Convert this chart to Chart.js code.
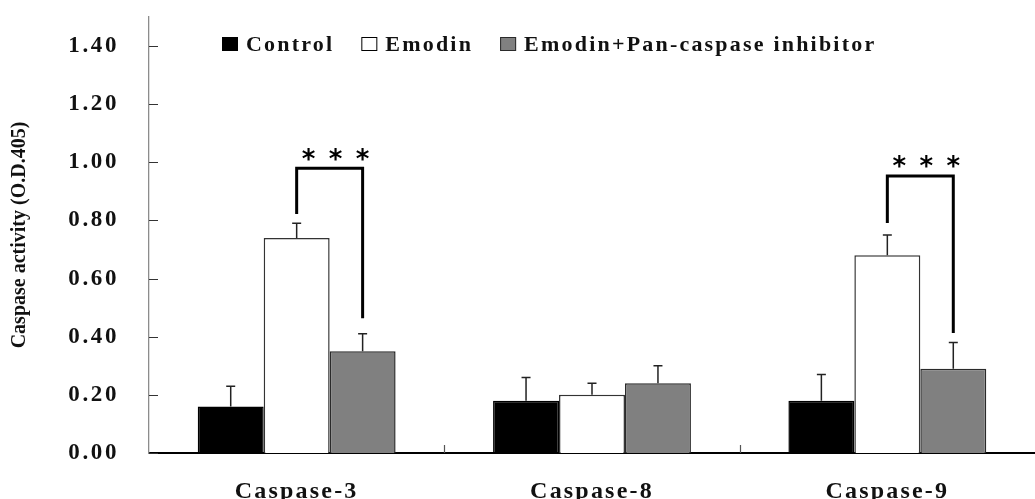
<!DOCTYPE html>
<html>
<head>
<meta charset="utf-8">
<script src="https://cdn.jsdelivr.net/npm/chart.js@4/dist/chart.umd.min.js"></script>
<style>
  html, body { margin: 0; padding: 0; background: #ffffff; }
  #wrap { width: 1035px; height: 499px; position: relative; }
</style>
</head>
<body>
<div id="wrap"><canvas id="chart"></canvas></div>
<script>
// ---- data ----
const categories = ['Caspase-3', 'Caspase-8', 'Caspase-9'];
const seriesNames = ['Control', 'Emodin', 'Emodin+Pan-caspase inhibitor'];

const controlValues = [0.16, 0.18, 0.18];
const controlErrors = [0.07, 0.08, 0.09];
const emodinValues = [0.74, 0.20, 0.68];
const emodinErrors = [0.05, 0.04, 0.07];
const inhibitorValues = [0.35, 0.24, 0.29];
const inhibitorErrors = [0.06, 0.06, 0.09];

const yTickValues = [0, 0.2, 0.4, 0.6, 0.8, 1.0, 1.2, 1.4];
const yTickLabels = ['0.00', '0.20', '0.40', '0.60', '0.80', '1.00', '1.20', '1.40'];

// significance brackets: Emodin vs Emodin+Pan-caspase inhibitor
const sigCategories = [0, 2];
const sigTop = [0.98, 0.953];
const sigEmodinEnd = [0.822, 0.791];
const sigInhibitorEnd = [0.464, 0.413];
const sigMarks = ['***', '***'];

// ---- styling ----
const SERIF = "'Liberation Serif', 'Times New Roman', serif";
const errorSets = [controlErrors, emodinErrors, inhibitorErrors];
const TICK_SPACING = { x: '2.2px', y: '2.6px' };

// tick labels are drawn with extra letter spacing
const spacedTickLabels = {
  id: 'spacedTickLabels',
  beforeDraw(chart) {
    for (const scale of Object.values(chart.scales)) {
      if (scale.__spaced) continue;
      const original = scale.drawLabels;
      const spacing = TICK_SPACING[scale.id] || '0px';
      scale.drawLabels = function (area) {
        const ctx = this.ctx;
        ctx.save();
        ctx.letterSpacing = spacing;
        original.call(this, area);
        ctx.restore();
      };
      scale.__spaced = true;
    }
  }
};

// inward tick marks on the value axis, short marks between categories
const axisMarks = {
  id: 'axisMarks',
  beforeDatasetsDraw(chart) {
    const {ctx, chartArea, scales: {x, y}} = chart;
    ctx.save();
    ctx.strokeStyle = '#333';
    ctx.lineWidth = 1.2;
    ctx.beginPath();
    for (const t of y.ticks) {
      const py = Math.round(y.getPixelForValue(t.value)) + 0.5;
      ctx.moveTo(chartArea.left, py);
      ctx.lineTo(chartArea.left + 9, py);
    }
    ctx.stroke();
    ctx.strokeStyle = '#555';
    ctx.beginPath();
    for (let i = 1; i < categories.length; i++) {
      const px = Math.round(x.getPixelForValue(i - 0.5)) + 0.5;
      ctx.moveTo(px, chartArea.bottom);
      ctx.lineTo(px, chartArea.bottom - 8);
    }
    ctx.stroke();
    ctx.restore();
  }
};

// upper error bars with caps
const errorBars = {
  id: 'errorBars',
  afterDatasetsDraw(chart) {
    const {ctx, scales: {y}} = chart;
    ctx.save();
    ctx.strokeStyle = '#222';
    ctx.lineWidth = 1.5;
    chart.data.datasets.forEach((ds, i) => {
      const meta = chart.getDatasetMeta(i);
      meta.data.forEach((bar, j) => {
        const top = y.getPixelForValue(ds.data[j] + errorSets[i][j]);
        ctx.beginPath();
        ctx.moveTo(bar.x, bar.y);
        ctx.lineTo(bar.x, top);
        ctx.moveTo(bar.x - 4.5, top);
        ctx.lineTo(bar.x + 4.5, top);
        ctx.stroke();
      });
    });
    ctx.restore();
  }
};

// significance brackets with asterisks
const significance = {
  id: 'significance',
  afterDatasetsDraw(chart) {
    const {ctx, scales: {y}} = chart;
    const emodinMeta = chart.getDatasetMeta(1);
    const inhibitorMeta = chart.getDatasetMeta(2);
    ctx.save();
    ctx.strokeStyle = '#000';
    ctx.lineWidth = 3;
    ctx.lineCap = 'butt';
    ctx.lineJoin = 'miter';
    sigCategories.forEach((c, k) => {
      const xl = emodinMeta.data[c].x;
      const xr = inhibitorMeta.data[c].x;
      const yt = y.getPixelForValue(sigTop[k]);
      ctx.beginPath();
      ctx.moveTo(xl, y.getPixelForValue(sigEmodinEnd[k]));
      ctx.lineTo(xl, yt);
      ctx.lineTo(xr, yt);
      ctx.lineTo(xr, y.getPixelForValue(sigInhibitorEnd[k]));
      ctx.stroke();

      ctx.fillStyle = '#000';
      ctx.font = "bold 26px 'DejaVu Sans', sans-serif";
      ctx.textAlign = 'center';
      ctx.textBaseline = 'alphabetic';
      const marks = sigMarks[k].split('');
      marks.forEach((m, n) => {
        const px = xr - (marks.length - 1 - n) * 27;
        ctx.fillText(m, px, yt - 0.5);
      });
    });
    ctx.restore();
  }
};

// legend row along the top
const topLegend = {
  id: 'topLegend',
  afterDraw(chart) {
    const {ctx, chartArea} = chart;
    ctx.save();
    ctx.font = 'bold 22px ' + SERIF;
    ctx.letterSpacing = '2.2px';
    ctx.textAlign = 'left';
    ctx.textBaseline = 'alphabetic';
    let x = chartArea.left + 73;
    const boxY = 37;
    chart.data.datasets.forEach(ds => {
      ctx.fillStyle = ds.backgroundColor;
      ctx.fillRect(x, boxY, 16, 14);
      ctx.strokeStyle = ds.backgroundColor === '#ffffff' ? '#000' : ds.borderColor;
      ctx.lineWidth = 1;
      ctx.strokeRect(x + 0.5, boxY + 0.5, 15, 13);
      const tx = x + 24;
      ctx.fillStyle = '#111';
      ctx.fillText(ds.label, tx, 51);
      x = tx + ctx.measureText(ds.label).width + 27;
    });
    ctx.restore();
  }
};

new Chart(document.getElementById('chart'), {
  type: 'bar',
  data: {
    labels: categories,
    datasets: [
      { label: seriesNames[0], data: controlValues, backgroundColor: '#000000', borderColor: '#000000', borderWidth: 1.5 },
      { label: seriesNames[1], data: emodinValues, backgroundColor: '#ffffff', borderColor: '#333333', borderWidth: 1.5 },
      { label: seriesNames[2], data: inhibitorValues, backgroundColor: '#808080', borderColor: '#2a2a2a', borderWidth: 1.5 }
    ]
  },
  options: {
    responsive: true,
    maintainAspectRatio: false,
    animation: false,
    events: [],
    layout: { padding: { top: 17, left: 0, right: -11, bottom: 0 } },
    datasets: { bar: { categoryPercentage: 0.67, barPercentage: 1.0 } },
    plugins: { legend: { display: false }, tooltip: { enabled: false } },
    scales: {
      x: {
        afterFit: s => { s.height = 46; s.paddingLeft = 0; s.paddingRight = 0; },
        grid: { display: false },
        border: { display: true, color: '#000', width: 2 },
        ticks: { padding: 16, color: '#111', maxRotation: 0, font: { family: SERIF, size: 24, weight: 'bold' } }
      },
      y: {
        min: 0,
        max: 1.5,
        bounds: 'data',
        afterBuildTicks: s => { s.ticks = yTickValues.map(v => ({ value: v })); },
        afterFit: s => { s.width = 149; s.paddingTop = 0; s.paddingBottom = 0; },
        grid: { display: false },
        border: { display: true, color: '#8c8c8c', width: 1.3 },
        ticks: {
          padding: 22,
          color: '#111',
          font: { family: SERIF, size: 23, weight: 'bold' },
          callback: (v, i) => yTickLabels[i]
        },
        title: {
          display: true,
          text: 'Caspase activity (O.D.405)',
          color: '#111',
          font: { family: SERIF, size: 20, weight: 'bold' },
          padding: { top: 7.5, bottom: 0 }
        }
      }
    }
  },
  plugins: [spacedTickLabels, axisMarks, errorBars, significance, topLegend]
});
</script>
</body>
</html>
